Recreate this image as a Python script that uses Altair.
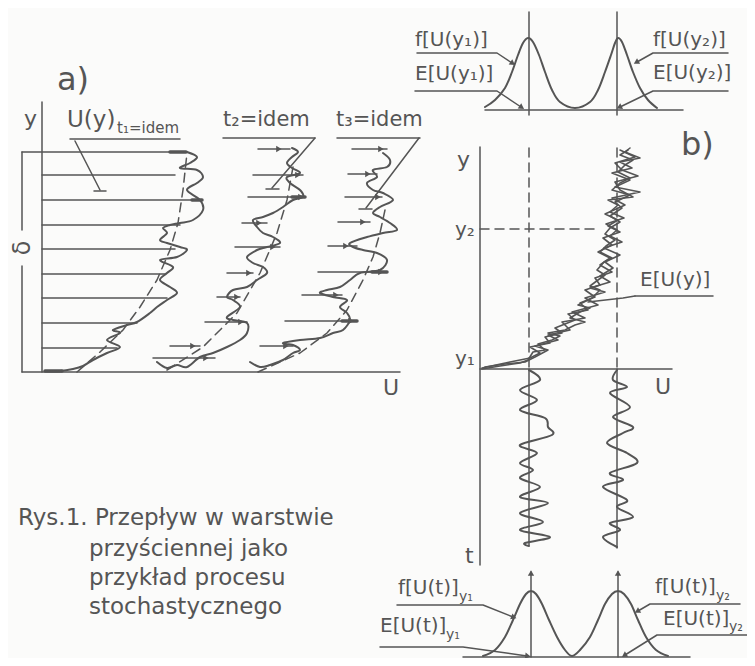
import math
import altair as alt
import pandas as pd

INK = "#555555"
FONT = "DejaVu Sans"

# ---------------- panel a) : profiles U(y) at three instants ----------------
a_axis_y = [(42, 102), (42, 372)]
a_axis_u = [(22, 372), (400, 372)]
delta_top = [(22, 152), (22, 230)]
delta_bot = [(22, 266), (22, 372)]

t1_levels = [152, 175, 200, 225, 249, 274, 298, 323, 348]
t1_starts = [22, 42, 42, 42, 42, 42, 42, 42, 42]
t1_ends = [185, 175, 202, 180, 175, 165, 167, 137, 117]

t2_levels = [149, 175, 197, 223, 247, 273, 297, 322, 346, 358]
t2_starts = [258, 253, 248, 242, 235, 227, 217, 205, 170, 153]
t2_ends = [290, 303, 305, 267, 280, 253, 240, 247, 200, 215]
t2_heads = [278, 297, 300, 258, 272, 248, 236, 240, 192, 205]

t3_levels = [149, 174, 197, 222, 246, 272, 295, 321, 346]
t3_starts = [352, 348, 345, 338, 328, 318, 302, 285, 260]
t3_ends = [387, 377, 382, 370, 357, 387, 342, 357, 293]
t3_heads = [380, 367, 377, 362, 345, 380, 335, 350, 285]

thick_bars = [(170, 186, 152), (192, 202, 200), (292, 305, 197),
              (372, 387, 272), (342, 357, 321), (45, 62, 371)]

t1_profile = [(45, 371), (60, 371), (73, 369), (83, 366), (93, 360), (107, 353),
              (120, 347), (107, 340), (120, 333), (113, 330), (127, 325), (137, 322),
              (150, 313), (157, 307), (167, 300), (177, 293), (170, 287), (160, 280),
              (167, 273), (173, 267), (160, 260), (177, 257), (187, 250), (180, 247),
              (167, 243), (160, 240), (167, 233), (163, 228), (170, 225), (180, 223),
              (193, 220), (203, 210), (200, 200), (187, 190), (197, 183), (203, 177),
              (197, 170), (180, 168), (190, 163), (197, 157), (187, 152)]
t1_mean = [(77, 372), (100, 352), (123, 330), (140, 307), (157, 280), (170, 250),
           (178, 223), (183, 190), (187, 153)]

t2_profile = [(157, 362), (167, 368), (177, 365), (187, 367), (200, 357), (213, 353),
              (227, 347), (240, 340), (247, 333), (247, 323), (233, 320), (227, 317),
              (240, 307), (233, 300), (227, 297), (233, 290), (247, 287), (257, 280),
              (267, 273), (263, 267), (253, 263), (247, 257), (257, 250), (267, 247),
              (280, 243), (273, 237), (263, 233), (257, 227), (253, 220), (263, 217),
              (273, 213), (283, 207), (293, 200), (303, 197), (300, 190), (290, 183),
              (287, 177), (300, 173), (292, 168), (287, 163), (292, 157), (298, 152),
              (292, 148)]
t2_mean = [(167, 370), (203, 347), (237, 313), (260, 273), (277, 233), (287, 200),
           (293, 167)]

t3_profile = [(250, 362), (260, 367), (270, 365), (283, 360), (293, 353), (300, 350),
              (293, 345), (283, 343), (300, 340), (320, 338), (333, 333), (343, 330),
              (350, 320), (347, 313), (340, 307), (347, 300), (333, 297), (320, 293),
              (327, 290), (340, 287), (350, 280), (360, 273), (380, 270), (387, 260),
              (377, 253), (363, 250), (353, 247), (350, 243), (367, 237), (383, 233),
              (397, 230), (390, 223), (380, 217), (373, 213), (380, 207), (393, 200),
              (383, 193), (373, 190), (367, 183), (377, 177), (373, 170), (387, 167),
              (390, 160), (383, 153)]
t3_mean = [(258, 372), (300, 353), (327, 333), (347, 310), (363, 280), (373, 257),
           (380, 233), (385, 210)]

a_label_lines = [[(70, 139), (180, 139)], [(75, 141), (100, 190)], [(94, 191), (106, 191)],
                 [(223, 138), (315, 138)], [(315, 138), (272, 188)], [(266, 189), (279, 189)],
                 [(337, 138), (420, 138)], [(419, 138), (366, 208)], [(359, 209), (372, 209)]]

# ---------------- panel b) ----------------
b_axis_y = [(480, 147), (480, 565)]
b_axis_u = [(480, 369), (672, 369)]
b_dashed = [[(529, 148), (529, 369)], [(617, 148), (617, 369)], [(480, 229), (600, 229)]]
b_solid = [[(529, 12), (529, 115)], [(617, 12), (617, 115)],
           [(485, 110), (683, 110)],
           [(529, 369), (529, 545)], [(617, 369), (617, 548)],
           [(531, 572), (531, 657)], [(618, 572), (618, 657)],
           [(463, 657), (690, 657)],
           [(635, 296), (713, 296)]]

bundle_a = [(482, 369), (500, 366), (520, 363), (528, 360), (533, 352), (545, 350),
            (538, 344), (552, 340), (560, 336), (548, 333), (565, 330), (575, 325),
            (585, 322), (570, 318), (580, 312), (590, 308), (578, 305), (592, 298),
            (600, 290), (590, 286), (598, 280), (605, 275), (597, 270), (604, 262),
            (612, 258), (600, 252), (606, 246), (615, 240), (605, 234), (610, 228),
            (620, 222), (610, 216), (622, 208), (615, 202), (630, 195), (612, 190),
            (620, 183), (630, 178), (618, 172), (625, 165), (633, 160), (620, 155),
            (628, 150)]
bundle_b = [(482, 368), (510, 362), (530, 358), (540, 353), (530, 347), (550, 343),
            (545, 337), (562, 333), (555, 328), (575, 320), (568, 314), (588, 310),
            (580, 303), (595, 297), (585, 290), (600, 285), (595, 278), (612, 272),
            (600, 265), (610, 258), (598, 252), (612, 245), (603, 238), (620, 232),
            (608, 226), (618, 220), (605, 214), (625, 205), (612, 198), (640, 192),
            (615, 187), (630, 180), (612, 173), (632, 168), (620, 162), (640, 158),
            (625, 152), (630, 148)]
bundle_c = [(485, 367), (505, 364), (525, 362), (535, 357), (548, 350), (535, 346),
            (558, 340), (548, 335), (570, 330), (562, 322), (585, 318), (572, 312),
            (598, 305), (585, 298), (605, 292), (590, 288), (610, 282), (600, 276),
            (613, 268), (605, 262), (620, 255), (604, 248), (622, 242), (610, 236),
            (617, 230), (606, 224), (624, 218), (610, 212), (618, 205), (608, 200),
            (633, 197), (620, 190), (615, 182), (638, 176), (622, 170), (615, 163),
            (635, 157), (620, 150)]
e_leader = [(635, 296), (623, 298), (588, 302)]

trace_y1 = [(529, 370), (540, 380), (520, 390), (537, 400), (520, 410), (545, 418),
            (548, 427), (552, 435), (520, 445), (537, 453), (520, 463), (533, 470),
            (520, 478), (540, 487), (520, 497), (548, 503), (520, 513), (543, 522),
            (520, 530), (550, 537), (525, 543), (529, 546)]
trace_y2 = [(617, 370), (613, 380), (627, 387), (610, 393), (630, 407), (613, 417),
            (633, 427), (623, 433), (607, 443), (627, 453), (637, 463), (610, 473),
            (623, 480), (603, 487), (627, 500), (617, 507), (633, 517), (610, 523),
            (620, 530), (603, 537), (617, 547)]

pdf_top = [(485, 107), (495, 100), (505, 88), (512, 72), (518, 55), (523, 43),
           (528, 38), (533, 42), (539, 55), (545, 72), (552, 90), (560, 102),
           (575, 108), (590, 102), (598, 90), (605, 72), (611, 55), (615, 43),
           (618, 38), (622, 42), (627, 55), (633, 72), (640, 88), (648, 100),
           (657, 108)]
pdf_bottom = [(483, 656), (495, 650), (505, 637), (513, 620), (520, 604), (526, 594),
              (531, 591), (536, 594), (542, 604), (549, 620), (557, 637), (565, 650),
              (572, 656), (580, 650), (590, 637), (598, 620), (605, 604), (612, 594),
              (618, 591), (624, 594), (631, 604), (638, 620), (646, 637), (656, 650),
              (668, 656)]

leaders = [[(417, 53), (497, 53), (512, 63)], [(415, 91), (497, 91), (521, 107)],
           [(728, 53), (653, 53), (637, 62)], [(728, 91), (653, 91), (620, 107)],
           [(397, 605), (483, 605), (513, 617)], [(380, 647), (463, 647), (527, 656)],
           [(740, 604), (650, 604), (638, 611)], [(747, 635), (657, 635), (625, 655)]]
up_arrows = [(531, 574), (618, 574)]

# ---------------- texts ----------------
texts_left = [
    ("a)", 57, 80, 32), ("y", 24, 119, 22), ("U(y)", 67, 120, 23), ("t₁=idem", 117, 128, 15),
    ("t₂=idem", 223, 120, 21), ("t₃=idem", 336, 120, 21), ("U", 383, 388, 22),
    ("Rys.1. Przepływ w warstwie", 18, 518, 23), ("przyściennej jako", 89, 549, 23),
    ("przykład procesu", 89, 578, 23), ("stochastycznego", 89, 607, 23),
    ("y", 457, 160, 22), ("b)", 681, 145, 32), ("y₂", 455, 230, 20), ("y₁", 455, 359, 20),
    ("U", 655, 387, 22), ("E[U(y)]", 640, 280, 20),
    ("f[U(y₁)]", 415, 40, 20), ("E[U(y₁)]", 415, 74, 20),
    ("f[U(y₂)]", 653, 40, 20), ("E[U(y₂)]", 653, 73, 20),
    ("t", 465, 556, 22),
    ("f[U(t)]", 398, 588, 20), ("y₁", 459, 597, 14),
    ("E[U(t)]", 380, 626, 20), ("y₁", 446, 635, 14),
    ("f[U(t)]", 655, 587, 20), ("y₂", 716, 596, 14),
    ("E[U(t)]", 663, 619, 20), ("y₂", 729, 627, 14),
]
texts_rot = [("δ", 23, 248, 24)]


def series_df(series, tag):
    rows = []
    for i, pts in enumerate(series):
        for j, (x, y) in enumerate(pts):
            rows.append({"x": x, "y": y, "sid": f"{tag}{i}", "ord": j})
    return pd.DataFrame(rows)


def heading(p, q):
    dx, dy = q[0] - p[0], q[1] - p[1]
    return (math.degrees(math.atan2(dx, -dy)) + 360) % 360


thin_series = [a_axis_y, a_axis_u, delta_top, delta_bot, b_axis_y, b_axis_u, e_leader]
thin_series += [[(s, y), (e, y)] for y, s, e in zip(t1_levels, t1_starts, t1_ends)]
thin_series += [[(s, y), (e, y)] for y, s, e in zip(t2_levels, t2_starts, t2_ends)]
thin_series += [[(s, y), (e, y)] for y, s, e in zip(t3_levels, t3_starts, t3_ends)]
thin_series += a_label_lines + b_solid + leaders

curve_series = [t1_profile, t2_profile, t3_profile, trace_y1, trace_y2, pdf_top, pdf_bottom]
jag_series = [bundle_a, bundle_b, bundle_c]
dash_series = [t1_mean, t2_mean, t3_mean] + b_dashed
thick_series = [[(a, y), (b, y)] for a, b, y in thick_bars]

heads = []
for y, hx in zip(t2_levels, t2_heads):
    heads.append({"x": hx, "y": y, "ang": 90})
for y, hx in zip(t3_levels, t3_heads):
    heads.append({"x": hx, "y": y, "ang": 90})
for ld in leaders:
    heads.append({"x": ld[-1][0], "y": ld[-1][1], "ang": heading(ld[-2], ld[-1])})
for x, y in up_arrows:
    heads.append({"x": x, "y": y, "ang": 0})
heads_df = pd.DataFrame(heads)

X = alt.X("x:Q", scale=alt.Scale(domain=[8, 747], nice=False, zero=False), axis=None)
Y = alt.Y("y:Q", scale=alt.Scale(domain=[8, 658], nice=False, zero=False, reverse=True), axis=None)


def line_layer(df, width, interp="linear", dash=None):
    kw = dict(color=INK, strokeWidth=width, interpolate=interp, strokeCap="round",
              strokeJoin="round")
    if dash:
        kw["strokeDash"] = dash
    return alt.Chart(df).mark_line(**kw).encode(x=X, y=Y, detail="sid:N", order="ord:Q")


thin = line_layer(series_df(thin_series, "t"), 1.5)
curves = line_layer(series_df(curve_series, "c"), 2.0, "cardinal")
jags = line_layer(series_df(jag_series, "j"), 1.6)
dashes = line_layer(series_df(dash_series, "d"), 1.5, dash=[9, 6])
thick = line_layer(series_df(thick_series, "k"), 3.5)

arrows = alt.Chart(heads_df).mark_point(shape="triangle", filled=True, color=INK,
                                        size=40, opacity=1).encode(
    x=X, y=Y, angle=alt.Angle("ang:Q", scale=None))

tl = pd.DataFrame(texts_left, columns=["text", "x", "y", "size"])
text_left = alt.Chart(tl).mark_text(align="left", baseline="middle", font=FONT,
                                    color=INK).encode(
    x=X, y=Y, text="text:N", size=alt.Size("size:Q", scale=None))
tr = pd.DataFrame(texts_rot, columns=["text", "x", "y", "size"])
text_rot = alt.Chart(tr).mark_text(align="center", baseline="middle", font=FONT,
                                   color=INK, angle=270).encode(
    x=X, y=Y, text="text:N", size=alt.Size("size:Q", scale=None))

chart = alt.layer(thin, dashes, thick, jags, curves, arrows, text_left, text_rot).properties(
    width=739, height=650, padding=0,
    autosize=alt.AutoSizeParams(type="none"),
    background="#fbfbfa",
).configure_view(stroke=None)

chart.save("out.html", embed_options={"renderer": "svg", "actions": False})
